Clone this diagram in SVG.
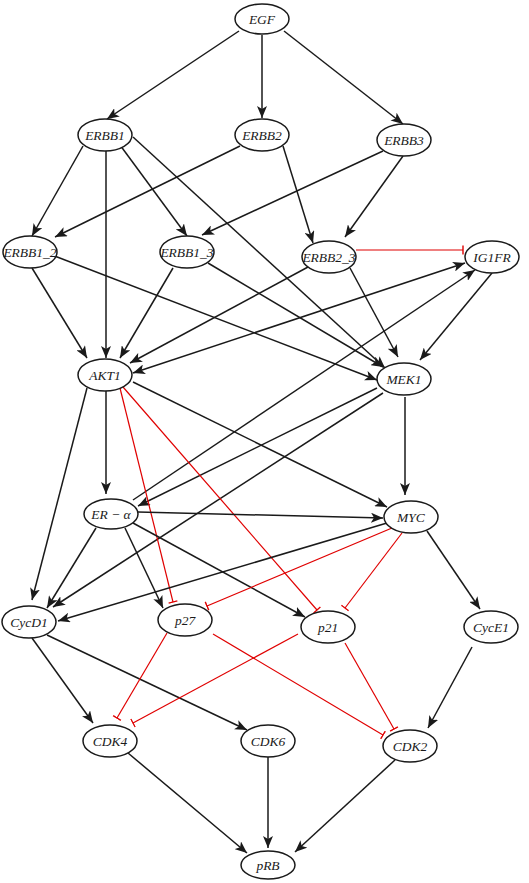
<svg xmlns="http://www.w3.org/2000/svg" width="529" height="883" viewBox="0 0 529 883">
<defs>
<marker id="arr" viewBox="0 0 12 10" refX="12" refY="5" markerWidth="12" markerHeight="10" markerUnits="userSpaceOnUse" orient="auto-start-reverse">
<path d="M0,0 L12,5 L0,10 L3,5 z" fill="#1a1a1a"/>
</marker>
<marker id="bar" viewBox="-1 -5 2 10" refX="0" refY="0" markerWidth="2" markerHeight="10" markerUnits="userSpaceOnUse" orient="auto">
<path d="M0,-4.5 L0,4.5" stroke="#e00000" stroke-width="1.4" fill="none"/>
</marker>
<style>
.n ellipse{fill:#fff;stroke:#1a1a1a;stroke-width:1.5}
.n text{font-family:'Liberation Serif','DejaVu Serif',serif;font-style:italic;font-size:13.5px;fill:#1a1a1a;text-anchor:middle}
.a{stroke:#1a1a1a;stroke-width:1.5;fill:none;marker-end:url(#arr)}
.i{stroke:#e00000;stroke-width:1.2;fill:none;marker-end:url(#bar)}
</style>
</defs>
<g id="connectors">
<line class="a" x1="239" y1="31" x2="107" y2="119"/>
<line class="a" x1="262" y1="35" x2="262" y2="118"/>
<line class="a" x1="284" y1="31" x2="403" y2="124"/>
<line class="a" x1="83" y1="146" x2="32" y2="236"/>
<line class="a" x1="106" y1="151" x2="106" y2="358"/>
<line class="a" x1="120" y1="145" x2="187" y2="236"/>
<line class="a" x1="133" y1="137" x2="385" y2="368"/>
<line class="a" x1="240" y1="146" x2="55" y2="237"/>
<line class="a" x1="283" y1="146" x2="313" y2="243"/>
<line class="a" x1="383" y1="151" x2="202" y2="235"/>
<line class="a" x1="403" y1="156" x2="345" y2="237"/>
<line class="i" x1="356" y1="250" x2="463" y2="250"/>
<line class="a" x1="32" y1="268" x2="87" y2="358"/>
<line class="a" x1="52" y1="255" x2="377" y2="380"/>
<line class="a" x1="173" y1="268" x2="120" y2="358"/>
<line class="a" x1="208" y1="263" x2="383" y2="367"/>
<line class="a" x1="308" y1="267" x2="130" y2="363"/>
<line class="a" x1="350" y1="268" x2="398" y2="357"/>
<line class="a" x1="133" y1="373" x2="465" y2="263" style="marker-start:url(#arr)"/>
<line class="a" x1="492" y1="273" x2="420" y2="360"/>
<line class="a" x1="133" y1="500" x2="475" y2="270"/>
<line class="a" x1="377" y1="388" x2="138" y2="506"/>
<line class="a" x1="383" y1="393" x2="53" y2="607"/>
<line class="a" x1="405" y1="397" x2="405" y2="495"/>
<line class="a" x1="87" y1="388" x2="32" y2="600"/>
<line class="a" x1="106" y1="391" x2="106" y2="494"/>
<line class="a" x1="133" y1="382" x2="387" y2="507"/>
<line class="i" x1="120" y1="388" x2="173" y2="602"/>
<line class="i" x1="123" y1="387" x2="317" y2="610"/>
<line class="a" x1="138" y1="512" x2="383" y2="518"/>
<line class="a" x1="96" y1="528" x2="47" y2="608"/>
<line class="a" x1="125" y1="528" x2="163" y2="608"/>
<line class="a" x1="133" y1="523" x2="305" y2="617"/>
<line class="a" x1="387" y1="523" x2="58" y2="621"/>
<line class="i" x1="392" y1="528" x2="207" y2="606"/>
<line class="i" x1="402" y1="533" x2="345" y2="608"/>
<line class="a" x1="427" y1="531" x2="480" y2="609"/>
<line class="a" x1="32" y1="638" x2="93" y2="723"/>
<line class="a" x1="47" y1="635" x2="247" y2="730"/>
<line class="i" x1="167" y1="633" x2="117" y2="718"/>
<line class="i" x1="213" y1="634" x2="383" y2="735"/>
<line class="i" x1="298" y1="634" x2="133" y2="723"/>
<line class="i" x1="345" y1="643" x2="394" y2="729"/>
<line class="a" x1="472" y1="647" x2="428" y2="728"/>
<line class="a" x1="128" y1="753" x2="247" y2="853"/>
<line class="a" x1="268" y1="757" x2="268" y2="848"/>
<line class="a" x1="395" y1="760" x2="295" y2="852"/>
</g>
<g id="EGF" class="n"><ellipse cx="262" cy="19" rx="27" ry="15"/><text x="262" y="24">EGF</text></g>
<g id="ERBB1" class="n"><ellipse cx="105" cy="135" rx="27" ry="16"/><text x="105" y="140">ERBB1</text></g>
<g id="ERBB2" class="n"><ellipse cx="262" cy="135" rx="27" ry="16"/><text x="262" y="140">ERBB2</text></g>
<g id="ERBB3" class="n"><ellipse cx="404" cy="140" rx="27" ry="16"/><text x="404" y="145">ERBB3</text></g>
<g id="ERBB1_2" class="n"><ellipse cx="30" cy="252" rx="27" ry="16"/><text x="30" y="257">ERBB1_2</text></g>
<g id="ERBB1_3" class="n"><ellipse cx="187" cy="252" rx="27" ry="16"/><text x="187" y="257">ERBB1_3</text></g>
<g id="ERBB2_3" class="n"><ellipse cx="329" cy="257" rx="27" ry="16"/><text x="329" y="262">ERBB2_3</text></g>
<g id="IG1FR" class="n"><ellipse cx="492" cy="257" rx="27" ry="16"/><text x="492" y="262">IG1FR</text></g>
<g id="AKT1" class="n"><ellipse cx="105" cy="375" rx="27" ry="16"/><text x="105" y="380">AKT1</text></g>
<g id="MEK1" class="n"><ellipse cx="404" cy="379" rx="27" ry="16"/><text x="404" y="384">MEK1</text></g>
<g id="ER-alpha" class="n"><ellipse cx="111" cy="514" rx="27" ry="15"/><text x="111" y="519">ER − α</text></g>
<g id="MYC" class="n"><ellipse cx="411" cy="517" rx="27" ry="16"/><text x="411" y="522">MYC</text></g>
<g id="CycD1" class="n"><ellipse cx="29" cy="622" rx="27" ry="16"/><text x="29" y="627">CycD1</text></g>
<g id="p27" class="n"><ellipse cx="185" cy="620" rx="27" ry="16"/><text x="185" y="625">p27</text></g>
<g id="p21" class="n"><ellipse cx="328" cy="627" rx="27" ry="16"/><text x="328" y="632">p21</text></g>
<g id="CycE1" class="n"><ellipse cx="491" cy="627" rx="27" ry="16"/><text x="491" y="632">CycE1</text></g>
<g id="CDK4" class="n"><ellipse cx="110" cy="741" rx="27" ry="16"/><text x="110" y="746">CDK4</text></g>
<g id="CDK6" class="n"><ellipse cx="268" cy="741" rx="27" ry="16"/><text x="268" y="746">CDK6</text></g>
<g id="CDK2" class="n"><ellipse cx="410" cy="746" rx="27" ry="16"/><text x="410" y="751">CDK2</text></g>
<g id="pRB" class="n"><ellipse cx="268" cy="865" rx="27" ry="14"/><text x="268" y="870">pRB</text></g>
</svg>
